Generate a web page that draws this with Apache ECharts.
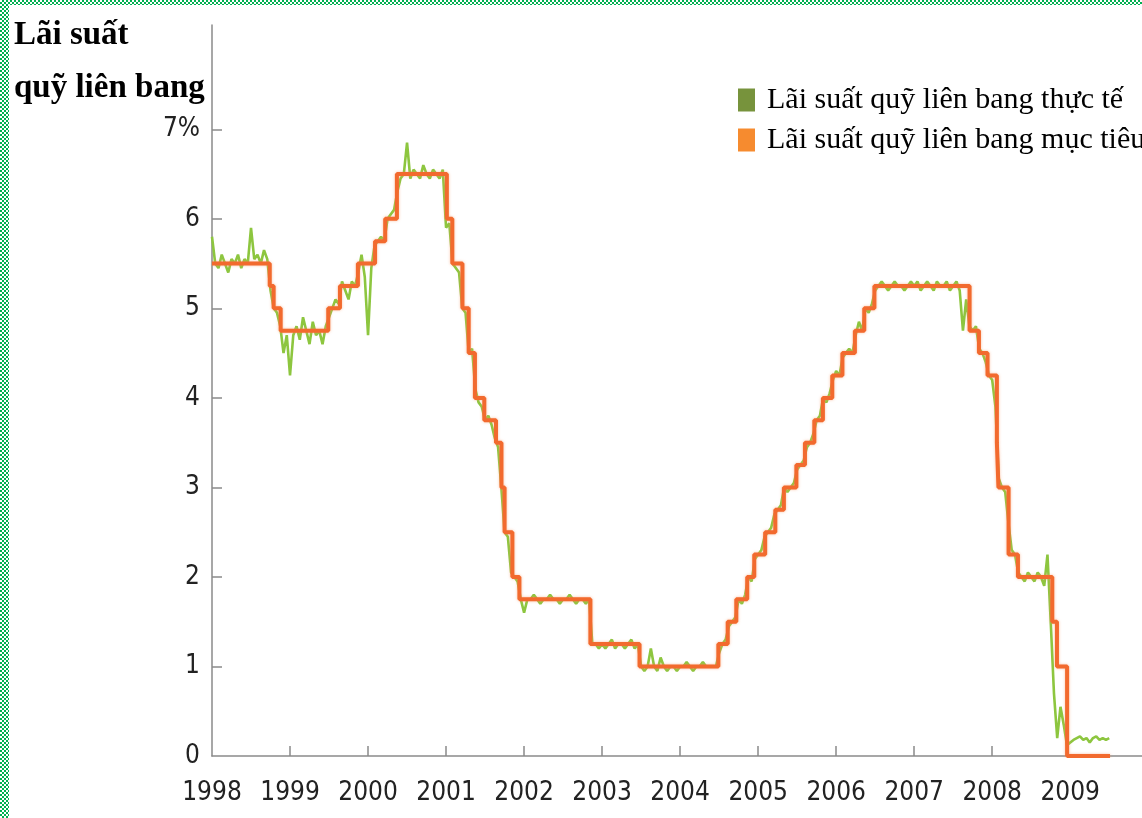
<!DOCTYPE html>
<html>
<head>
<meta charset="utf-8">
<title>Lãi suất quỹ liên bang</title>
<script src="https://cdn.jsdelivr.net/npm/echarts@6/dist/echarts.min.js"></script>
<style>
  html, body { margin: 0; padding: 0; background: #fff; }
  .wrap { position: relative; width: 1142px; height: 818px; overflow: hidden; }
  #chart { width: 1142px; height: 818px; }
  .frame-top, .frame-left {
    position: absolute; left: 0; top: 0;
    background: repeating-conic-gradient(#00b050 0 25%, #fff 0 50%) 0 0 / 4px 4px;
  }
  .frame-top { width: 1142px; height: 5px; }
  .frame-left { width: 9px; height: 818px; }
</style>
</head>
<body>
<div class="wrap">
  <div id="chart"></div>
  <div class="frame-top"></div>
  <div class="frame-left"></div>
</div>
<script>
// target rate: date it took effect (decimal year) and new level, %
const targetDates = [
  1998.00, 1998.74, 1998.79, 1998.88, 1999.49, 1999.64, 1999.87, 2000.09, 2000.22, 2000.37,
  2001.01, 2001.08, 2001.21, 2001.29, 2001.37, 2001.49, 2001.64, 2001.71, 2001.75, 2001.85,
  2001.94, 2002.85, 2003.48, 2004.49, 2004.61, 2004.72, 2004.86, 2004.95, 2005.09, 2005.22,
  2005.33, 2005.49, 2005.60, 2005.72, 2005.83, 2005.95, 2006.08, 2006.24, 2006.36, 2006.49,
  2007.71, 2007.83, 2007.94, 2008.06, 2008.08, 2008.21, 2008.33, 2008.77, 2008.83, 2008.96,
  2009.51
];
const targetRates = [
  5.50, 5.25, 5.00, 4.75, 5.00, 5.25, 5.50, 5.75, 6.00, 6.50,
  6.00, 5.50, 5.00, 4.50, 4.00, 3.75, 3.50, 3.00, 2.50, 2.00,
  1.75, 1.25, 1.00, 1.25, 1.50, 1.75, 2.00, 2.25, 2.50, 2.75,
  3.00, 3.25, 3.50, 3.75, 4.00, 4.25, 4.50, 4.75, 5.00, 5.25,
  4.75, 4.50, 4.25, 3.50, 3.00, 2.25, 2.00, 1.50, 1.00, 0.00,
  0.00
];

// effective rate, read every half month
const actual1998 = [5.8, 5.5, 5.45, 5.6, 5.5, 5.4, 5.55, 5.5, 5.6, 5.45, 5.55, 5.5, 5.9, 5.55, 5.6, 5.5, 5.65, 5.55, 5.2, 5.0, 4.95, 4.8, 4.5, 4.7];
const actual1999 = [4.25, 4.7, 4.8, 4.65, 4.9, 4.75, 4.6, 4.85, 4.7, 4.75, 4.6, 4.8, 4.9, 5.0, 5.1, 5.05, 5.3, 5.2, 5.1, 5.3, 5.25, 5.4, 5.6, 5.35];
const actual2000 = [4.7, 5.45, 5.7, 5.75, 5.8, 5.75, 6.0, 6.05, 6.1, 6.3, 6.45, 6.5, 6.85, 6.45, 6.55, 6.5, 6.45, 6.6, 6.5, 6.45, 6.55, 6.5, 6.45, 6.55];
const actual2001 = [5.9, 5.95, 5.5, 5.45, 5.4, 5.0, 4.95, 4.5, 4.55, 4.1, 3.95, 3.9, 3.75, 3.8, 3.7, 3.55, 3.45, 3.0, 2.5, 2.45, 2.05, 2.0, 1.95, 1.75];
const actual2002 = [1.6, 1.75, 1.75, 1.8, 1.75, 1.7, 1.75, 1.75, 1.8, 1.75, 1.75, 1.7, 1.75, 1.75, 1.8, 1.75, 1.7, 1.75, 1.75, 1.7, 1.75, 1.25, 1.25, 1.2];
const actual2003 = [1.25, 1.2, 1.25, 1.3, 1.2, 1.25, 1.25, 1.2, 1.25, 1.3, 1.2, 1.25, 1.0, 0.95, 1.0, 1.2, 1.0, 0.95, 1.1, 1.0, 0.95, 1.0, 1.0, 0.95];
const actual2004 = [1.0, 1.0, 1.05, 1.0, 0.95, 1.0, 1.0, 1.05, 1.0, 1.0, 1.0, 1.0, 1.15, 1.25, 1.3, 1.45, 1.5, 1.55, 1.75, 1.7, 1.8, 2.0, 1.95, 2.2];
const actual2005 = [2.25, 2.3, 2.45, 2.5, 2.55, 2.7, 2.75, 2.8, 3.0, 2.95, 3.0, 3.05, 3.2, 3.25, 3.3, 3.45, 3.5, 3.6, 3.75, 3.8, 4.0, 3.95, 4.05, 4.2];
const actual2006 = [4.3, 4.25, 4.45, 4.5, 4.55, 4.5, 4.7, 4.85, 4.75, 5.0, 4.95, 5.05, 5.2, 5.25, 5.3, 5.25, 5.2, 5.25, 5.3, 5.25, 5.25, 5.2, 5.25, 5.3];
const actual2007 = [5.25, 5.3, 5.2, 5.25, 5.3, 5.25, 5.2, 5.3, 5.25, 5.25, 5.3, 5.2, 5.25, 5.3, 5.2, 4.75, 5.1, 4.8, 4.75, 4.8, 4.55, 4.5, 4.4, 4.25];
const actual2008 = [4.2, 3.9, 3.1, 3.0, 2.95, 2.6, 2.3, 2.25, 2.05, 2.0, 1.95, 2.05, 2.0, 1.95, 2.05, 2.0, 1.9, 2.25, 1.5, 0.7, 0.2, 0.55, 0.35, 0.12];
const actual2009 = [0.15, 0.18, 0.2, 0.22, 0.18, 0.2, 0.15, 0.2, 0.22, 0.18, 0.2, 0.18, 0.2];

const yearLabels = [1998, 1999, 2000, 2001, 2002, 2003, 2004, 2005, 2006, 2007, 2008, 2009];
const yearTicks = [1999, 2000, 2001, 2002, 2003, 2004, 2005, 2006, 2007, 2008];
const rateLabels = [0, 1, 2, 3, 4, 5, 6, 7];

const actualByYear = [
  [1998, actual1998], [1999, actual1999], [2000, actual2000], [2001, actual2001],
  [2002, actual2002], [2003, actual2003], [2004, actual2004], [2005, actual2005],
  [2006, actual2006], [2007, actual2007], [2008, actual2008], [2009, actual2009]
];
const actualData = [];
actualByYear.forEach(([year, values]) => {
  values.forEach((v, i) => actualData.push([year + i / 24, v]));
});
const targetData = targetDates.map((d, i) => [d, targetRates[i]]);

const chart = echarts.init(document.getElementById('chart'));

const axisColor = '#8a8a8a';
const labelFont = "'Liberation Sans Narrow', 'DejaVu Sans Condensed', 'Liberation Sans', sans-serif";

chart.setOption({
  animation: false,
  backgroundColor: '#fff',
  title: {
    text: 'Lãi suất\nquỹ liên bang',
    left: 14,
    top: 9,
    padding: 0,
    textStyle: {
      fontFamily: "'Liberation Serif', serif",
      fontWeight: 'bold',
      fontSize: 33,
      lineHeight: 53,
      color: '#000'
    }
  },
  legend: {
    orient: 'vertical',
    left: 738,
    top: 80,
    padding: 0,
    itemWidth: 17,
    itemHeight: 23,
    itemGap: 0,
    icon: 'rect',
    textStyle: {
      fontFamily: "'Liberation Serif', serif",
      fontSize: 30,
      lineHeight: 28,
      color: '#000',
      padding: [0, 0, 12, 7]
    },
    data: [
      { name: 'Lãi suất quỹ liên bang thực tế', itemStyle: { color: '#77933c' } },
      { name: 'Lãi suất quỹ liên bang mục tiêu', itemStyle: { color: '#f68b2f' } }
    ]
  },
  grid: {
    left: 212,
    right: 0,
    top: 25,
    bottom: 62,
    outerBoundsMode: 'none'
  },
  xAxis: {
    type: 'value',
    min: 1998,
    max: 2009.92,
    axisLine: { show: true, lineStyle: { color: axisColor, width: 1.5 } },
    axisTick: {
      show: true,
      inside: true,
      length: 10,
      customValues: yearTicks,
      lineStyle: { color: axisColor, width: 1.5 }
    },
    axisLabel: {
      customValues: yearLabels,
      margin: 24,
      fontFamily: labelFont,
      fontSize: 26,
      color: '#222',
      formatter: v => String(v)
    },
    splitLine: { show: false }
  },
  yAxis: {
    type: 'value',
    min: 0,
    max: 8.165,
    axisLine: { show: true, lineStyle: { color: axisColor, width: 1.5 } },
    axisTick: {
      show: true,
      inside: true,
      length: 10,
      customValues: [1, 2, 3, 4, 5, 6, 7],
      lineStyle: { color: axisColor, width: 1.5 }
    },
    axisLabel: {
      customValues: rateLabels,
      margin: 12,
      fontFamily: labelFont,
      fontSize: 26,
      color: '#222',
      formatter: v => (v === 7 ? '7%' : String(v))
    },
    splitLine: { show: false }
  },
  series: [
    {
      name: 'Lãi suất quỹ liên bang thực tế',
      type: 'line',
      data: actualData,
      showSymbol: false,
      color: '#8dc63f',
      lineStyle: { color: '#8dc63f', width: 2.6 },
      z: 2
    },
    {
      name: 'Lãi suất quỹ liên bang mục tiêu',
      type: 'line',
      step: 'end',
      data: targetData,
      showSymbol: false,
      color: '#f26a2e',
      lineStyle: {
        color: '#f26a2e',
        width: 4,
        shadowColor: 'rgba(246, 150, 100, 0.6)',
        shadowBlur: 3
      },
      z: 3
    }
  ]
});
</script>
</body>
</html>
